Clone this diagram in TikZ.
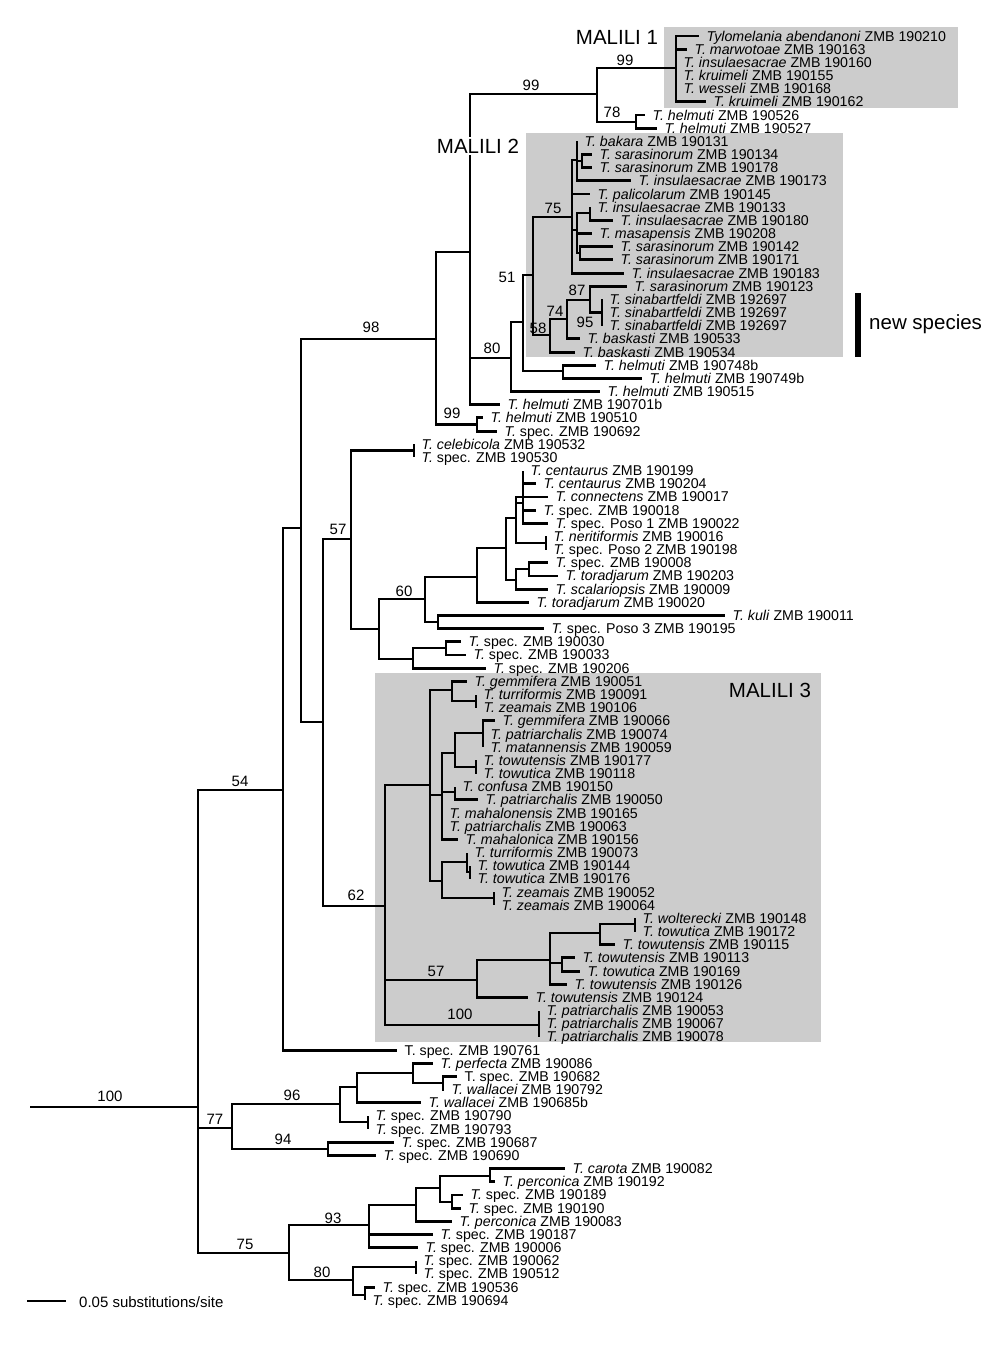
\documentclass[tikz,border=0pt]{standalone}
\usepackage{fontspec}
\setmainfont{Liberation Sans}
\definecolor{boxgray}{RGB}{204,204,204}
\newcommand\tn[1]{\textit{T. #1}}
\newcommand\nd[3]{\coordinate (#1) at (#2,#3);}
\newcommand\lf[4]{\coordinate (#1) at (#2,{36+13.17*(#3)}); \node[leaf] (#1t) at (#1) {#4};}
\tikzset{
 branch/.style={line width=2.9pt, line join=miter},
 leaf/.style={anchor=base west, inner sep=0pt, xshift=7.5pt, yshift=-5pt, font=\fontsize{14.2}{14.2}\selectfont},
 bsval/.style={inner sep=0pt, font=\fontsize{15}{15}\selectfont},
 cladelab/.style={inner sep=0pt, anchor=base, font=\fontsize{20.5}{20.5}\selectfont},
 cladebox/.style={fill=boxgray, draw=none},
}
\begin{document}
\begin{tikzpicture}[x=1pt,y=-1pt]
\fill[white] (0,0) rectangle (1004,1352);
\useasboundingbox (0,0) rectangle (1004,1352);
% clade boxes
\fill[cladebox] (664,27) rectangle (958,108);
\fill[cladebox] (526,133) rectangle (843,357);
\fill[cladebox] (375,673) rectangle (821,1042);
% internal nodes
\nd{root0}{30}{1107}
\nd{R}{198}{1107}
\nd{n54}{283}{790}
\nd{nA}{301}{528}
\nd{n98}{436}{339}
\nd{nM}{470}{252}
\nd{n99t}{597}{94}
\nd{nM1}{676}{68}
\nd{n78}{636}{122}
\nd{n80}{511}{358}
\nd{n51}{523}{322}
\nd{nX}{533}{275}
\nd{n75}{572}{217}
\nd{nA1}{577}{160}
\nd{nS1}{582}{161}
\nd{nA2}{577}{230}
\nd{nI1}{590}{213}
\nd{nS2}{580}{253}
\nd{n58}{550}{335}
\nd{n74}{567}{319}
\nd{n87}{590}{300}
\nd{n95}{602}{312.6}
\nd{nH748}{563}{371}
\nd{n99b}{477}{424.5}
\nd{nB}{323}{722}
\nd{n57}{351}{539}
\nd{nCel}{414}{450.8}
\nd{n60}{379}{629}
\nd{nP}{425}{599}
\nd{nPP}{477}{577}
\nd{nC3}{506}{548}
\nd{nC2}{516}{518}
\nd{nC1}{523}{503}
\nd{nN}{546}{543}
\nd{nT2}{516}{580}
\nd{nT1}{529}{569}
\nd{nK}{438}{622}
\nd{nQ}{413}{659}
\nd{nQ1}{446}{648}
\nd{n62}{385}{906}
\nd{nK1}{430}{785}
\nd{nG1}{452}{690}
\nd{nG2}{476}{701}
\nd{nK2}{442}{795}
\nd{nK3}{455}{753}
\nd{nK5}{483}{733}
\nd{nK6}{476}{767}
\nd{nK7}{455}{792}
\nd{nK4}{442}{881}
\nd{nK8}{467}{862}
\nd{nK9}{470}{872}
\nd{nZ}{494}{898}
\nd{n57b}{477}{980}
\nd{nW1}{550}{960}
\nd{nW2}{600}{933}
\nd{nW3}{635}{924}
\nd{nW4}{562}{963}
\nd{nP100}{539}{1025}
\nd{n77}{232}{1128}
\nd{n96}{340}{1104}
\nd{nN1}{357}{1087}
\nd{nN2}{413}{1073}
\nd{nN3}{443}{1083}
\nd{nS790}{368}{1122}
\nd{n94}{328}{1149}
\nd{n75b}{289}{1253}
\nd{n93}{369}{1225}
\nd{n93a}{416}{1205}
\nd{n93b}{440}{1188}
\nd{nCar}{490}{1176}
\nd{n189}{452}{1202}
\nd{n80b}{353}{1280}
\nd{n062}{416}{1267}
\nd{n536}{365}{1295}
% leaves
\lf{l0}{699}{0}{\textit{Tylomelania abendanoni} ZMB 190210}
\lf{l1}{687}{1}{\tn{marwotoae} ZMB 190163}
\lf{l2}{676}{2}{\tn{insulaesacrae} ZMB 190160}
\lf{l3}{676}{3}{\tn{kruimeli} ZMB 190155}
\lf{l4}{676}{4}{\tn{wesseli} ZMB 190168}
\lf{l5}{706}{5}{\tn{kruimeli} ZMB 190162}
\lf{l6}{645}{6}{\tn{helmuti} ZMB 190526}
\lf{l7}{657}{7}{\tn{helmuti} ZMB 190527}
\lf{l8}{577}{8}{\tn{bakara} ZMB 190131}
\lf{l9}{592}{9}{\tn{sarasinorum} ZMB 190134}
\lf{l10}{592}{10}{\tn{sarasinorum} ZMB 190178}
\lf{l11}{631}{11}{\tn{insulaesacrae} ZMB 190173}
\lf{l12}{590}{12}{\tn{palicolarum} ZMB 190145}
\lf{l13}{590}{13}{\tn{insulaesacrae} ZMB 190133}
\lf{l14}{613}{14}{\tn{insulaesacrae} ZMB 190180}
\lf{l15}{592}{15}{\tn{masapensis} ZMB 190208}
\lf{l16}{613}{16}{\tn{sarasinorum} ZMB 190142}
\lf{l17}{613}{17}{\tn{sarasinorum} ZMB 190171}
\lf{l18}{624}{18}{\tn{insulaesacrae} ZMB 190183}
\lf{l19}{627}{19}{\tn{sarasinorum} ZMB 190123}
\lf{l20}{602}{20}{\tn{sinabartfeldi} ZMB 192697}
\lf{l21}{602}{21}{\tn{sinabartfeldi} ZMB 192697}
\lf{l22}{602}{22}{\tn{sinabartfeldi} ZMB 192697}
\lf{l23}{580}{23}{\tn{baskasti} ZMB 190533}
\lf{l24}{575}{24}{\tn{baskasti} ZMB 190534}
\lf{l25}{596}{25}{\tn{helmuti} ZMB 190748b}
\lf{l26}{642}{26}{\tn{helmuti} ZMB 190749b}
\lf{l27}{600}{27}{\tn{helmuti} ZMB 190515}
\lf{l28}{500}{28}{\tn{helmuti} ZMB 190701b}
\lf{l29}{483}{29}{\tn{helmuti} ZMB 190510}
\lf{l30}{497}{30}{\textit{T.} spec. ZMB 190692}
\lf{l31}{414}{31}{\tn{celebicola} ZMB 190532}
\lf{l32}{414}{32}{\textit{T.} spec. ZMB 190530}
\lf{l33}{523}{33}{\tn{centaurus} ZMB 190199}
\lf{l34}{536}{34}{\tn{centaurus} ZMB 190204}
\lf{l35}{548}{35}{\tn{connectens} ZMB 190017}
\lf{l36}{536}{36}{\textit{T.} spec. ZMB 190018}
\lf{l37}{548}{37}{\textit{T.} spec. Poso 1 ZMB 190022}
\lf{l38}{546}{38}{\tn{neritiformis} ZMB 190016}
\lf{l39}{546}{39}{\textit{T.} spec. Poso 2 ZMB 190198}
\lf{l40}{548}{40}{\textit{T.} spec. ZMB 190008}
\lf{l41}{558}{41}{\tn{toradjarum} ZMB 190203}
\lf{l42}{548}{42}{\tn{scalariopsis} ZMB 190009}
\lf{l43}{529}{43}{\tn{toradjarum} ZMB 190020}
\lf{l44}{725}{44}{\tn{kuli} ZMB 190011}
\lf{l45}{544}{45}{\textit{T.} spec. Poso 3 ZMB 190195}
\lf{l46}{461}{46}{\textit{T.} spec. ZMB 190030}
\lf{l47}{466}{47}{\textit{T.} spec. ZMB 190033}
\lf{l48}{486}{48}{\textit{T.} spec. ZMB 190206}
\lf{l49}{467}{49}{\tn{gemmifera} ZMB 190051}
\lf{l50}{476}{50}{\tn{turriformis} ZMB 190091}
\lf{l51}{476}{51}{\tn{zeamais} ZMB 190106}
\lf{l52}{495}{52}{\tn{gemmifera} ZMB 190066}
\lf{l53}{483}{53}{\tn{patriarchalis} ZMB 190074}
\lf{l54}{483}{54}{\tn{matannensis} ZMB 190059}
\lf{l55}{476}{55}{\tn{towutensis} ZMB 190177}
\lf{l56}{476}{56}{\tn{towutica} ZMB 190118}
\lf{l57}{455}{57}{\tn{confusa} ZMB 190150}
\lf{l58}{478}{58}{\tn{patriarchalis} ZMB 190050}
\lf{l59}{442}{59}{\tn{mahalonensis} ZMB 190165}
\lf{l60}{442}{60}{\tn{patriarchalis} ZMB 190063}
\lf{l61}{458}{61}{\tn{mahalonica} ZMB 190156}
\lf{l62}{467}{62}{\tn{turriformis} ZMB 190073}
\lf{l63}{470}{63}{\tn{towutica} ZMB 190144}
\lf{l64}{470}{64}{\tn{towutica} ZMB 190176}
\lf{l65}{494}{65}{\tn{zeamais} ZMB 190052}
\lf{l66}{494}{66}{\tn{zeamais} ZMB 190064}
\lf{l67}{635}{67}{\tn{wolterecki} ZMB 190148}
\lf{l68}{635}{68}{\tn{towutica} ZMB 190172}
\lf{l69}{615}{69}{\tn{towutensis} ZMB 190115}
\lf{l70}{575}{70}{\tn{towutensis} ZMB 190113}
\lf{l71}{580}{71}{\tn{towutica} ZMB 190169}
\lf{l72}{567}{72}{\tn{towutensis} ZMB 190126}
\lf{l73}{528}{73}{\tn{towutensis} ZMB 190124}
\lf{l74}{539}{74}{\tn{patriarchalis} ZMB 190053}
\lf{l75}{539}{75}{\tn{patriarchalis} ZMB 190067}
\lf{l76}{539}{76}{\tn{patriarchalis} ZMB 190078}
\lf{l77}{397}{77}{T. spec. ZMB 190761}
\lf{l78}{433}{78}{\tn{perfecta} ZMB 190086}
\lf{l79}{457}{79}{T. spec. ZMB 190682}
\lf{l80}{444}{80}{\tn{wallacei} ZMB 190792}
\lf{l81}{421}{81}{\tn{wallacei} ZMB 190685b}
\lf{l82}{368}{82}{\textit{T.} spec. ZMB 190790}
\lf{l83}{368}{83}{\textit{T.} spec. ZMB 190793}
\lf{l84}{394}{84}{\textit{T.} spec. ZMB 190687}
\lf{l85}{376}{85}{\textit{T.} spec. ZMB 190690}
\lf{l86}{565}{86}{\tn{carota} ZMB 190082}
\lf{l87}{495}{87}{\tn{perconica} ZMB 190192}
\lf{l88}{463}{88}{\textit{T.} spec. ZMB 190189}
\lf{l89}{461}{89}{\textit{T.} spec. ZMB 190190}
\lf{l90}{452}{90}{\tn{perconica} ZMB 190083}
\lf{l91}{433}{91}{\textit{T.} spec. ZMB 190187}
\lf{l92}{418}{92}{\textit{T.} spec. ZMB 190006}
\lf{l93}{416}{93}{\textit{T.} spec. ZMB 190062}
\lf{l94}{416}{94}{\textit{T.} spec. ZMB 190512}
\lf{l95}{375}{95}{\textit{T.} spec. ZMB 190536}
\lf{l96}{365}{96}{\textit{T.} spec. ZMB 190694}
% branches
\draw[branch] (root0) -- (R);
\foreach \p/\c in {R/n54, R/n77, R/n75b, n54/nA, n54/l77, nA/n98, nA/nB,
 n98/nM, n98/n99b, nM/n99t, nM/n80, nM/l28, n99t/nM1, n99t/n78,
 nM1/l0, nM1/l1, nM1/l2, nM1/l3, nM1/l4, nM1/l5, n78/l6, n78/l7,
 n80/n51, n80/l27, n51/nX, n51/nH748, nX/n75, nX/n58,
 n75/nA1, n75/l12, n75/nA2, n75/l18, nA1/l8, nA1/nS1, nA1/l11,
 nS1/l9, nS1/l10, nA2/nI1, nA2/l15, nA2/nS2, nI1/l13, nI1/l14,
 nS2/l16, nS2/l17, n58/n74, n58/l24, n74/n87, n74/l23, n87/l19, n87/n95,
 n95/l20, n95/l21, n95/l22, nH748/l25, nH748/l26, n99b/l29, n99b/l30,
 nB/n57, nB/n62, n57/nCel, n57/n60, nCel/l31, nCel/l32, n60/nP, n60/nQ,
 nP/nPP, nP/nK, nPP/nC3, nPP/l43, nC3/nC2, nC3/nT2,
 nC2/l35, nC2/nC1, nC2/nN, nC1/l33, nC1/l34, nC1/l36, nC1/l37,
 nN/l38, nN/l39, nT2/nT1, nT2/l42, nT1/l40, nT1/l41, nK/l44, nK/l45,
 nQ/nQ1, nQ/l48, nQ1/l46, nQ1/l47,
 n62/nK1, n62/n57b, n62/nP100, nK1/nG1, nK1/nK2, nK1/nK4,
 nG1/l49, nG1/nG2, nG2/l50, nG2/l51,
 nK2/nK3, nK2/nK7, nK2/l59, nK2/l60, nK2/l61, nK3/nK5, nK3/nK6,
 nK5/l52, nK5/l53, nK5/l54, nK6/l55, nK6/l56, nK7/l57, nK7/l58,
 nK4/nK8, nK4/nZ, nK8/l62, nK8/nK9, nK9/l63, nK9/l64, nZ/l65, nZ/l66,
 n57b/nW1, n57b/l73, nW1/nW2, nW1/nW4, nW1/l72, nW2/nW3, nW2/l69,
 nW3/l67, nW3/l68, nW4/l70, nW4/l71, nP100/l74, nP100/l75, nP100/l76,
 n77/n96, n77/n94, n96/nN1, n96/nS790, nN1/nN2, nN1/l81,
 nN2/l78, nN2/nN3, nN3/l79, nN3/l80, nS790/l82, nS790/l83, n94/l84, n94/l85,
 n75b/n93, n75b/n80b, n93/n93a, n93/l91, n93/l92, n93a/n93b, n93a/l90,
 n93b/nCar, n93b/n189, nCar/l86, nCar/l87, n189/l88, n189/l89,
 n80b/n062, n80b/n536, n062/l93, n062/l94, n536/l95, n536/l96}
 {\draw[branch] (\p) |- (\c);}
% support values
\node[bsval] (s100a) at (110,1096) {100};
\node[bsval] (s54) at (240,781) {54};
\node[bsval] (s98) at (371,327) {98};
\node[bsval] (s99a) at (531,85) {99};
\node[bsval] (s99b) at (625,60) {99};
\node[bsval] (s78) at (612,112) {78};
\node[bsval] (s80a) at (492,348) {80};
\node[bsval] (s51) at (507,277) {51};
\node[bsval] (s75a) at (553,208) {75};
\node[bsval] (s58) at (538,328) {58};
\node[bsval] (s74) at (555,311) {74};
\node[bsval] (s87) at (577,290) {87};
\node[bsval] (s95) at (585,322) {95};
\node[bsval] (s99c) at (452,413) {99};
\node[bsval] (s57a) at (338,529) {57};
\node[bsval] (s60) at (404,591) {60};
\node[bsval] (s62) at (356,895) {62};
\node[bsval] (s57b) at (436,971) {57};
\node[bsval] (s100b) at (460,1014) {100};
\node[bsval] (s77) at (215,1119) {77};
\node[bsval] (s96) at (292,1095) {96};
\node[bsval] (s94) at (283,1139) {94};
\node[bsval] (s75b) at (245,1244) {75};
\node[bsval] (s93) at (333,1218) {93};
\node[bsval] (s80b) at (322,1272) {80};
% clade labels
\node[cladelab] (m1) at (617,44) {MALILI 1};
\node[cladelab, fill=white, inner sep=1.5pt] (m2) at (478,153) {MALILI 2};
\node[cladelab] (m3) at (770,697) {MALILI 3};
% new species bar
\coordinate (nsa) at (858,293);
\coordinate (nsb) at (858,357);
\draw[line width=5.5pt] (nsa) -- (nsb);
\node[anchor=base west, inner sep=0pt, font=\fontsize{20.5}{20.5}\selectfont] (ns) at (869,329) {new species};
% scale bar
\coordinate (sb1) at (27,1301);
\coordinate (sb2) at (66,1301);
\draw[branch] (sb1) -- (sb2);
\node[anchor=base west, inner sep=0pt, font=\fontsize{15}{15}\selectfont] (sbt) at (79,1307) {0.05 substitutions/site};
\end{tikzpicture}
\end{document}
